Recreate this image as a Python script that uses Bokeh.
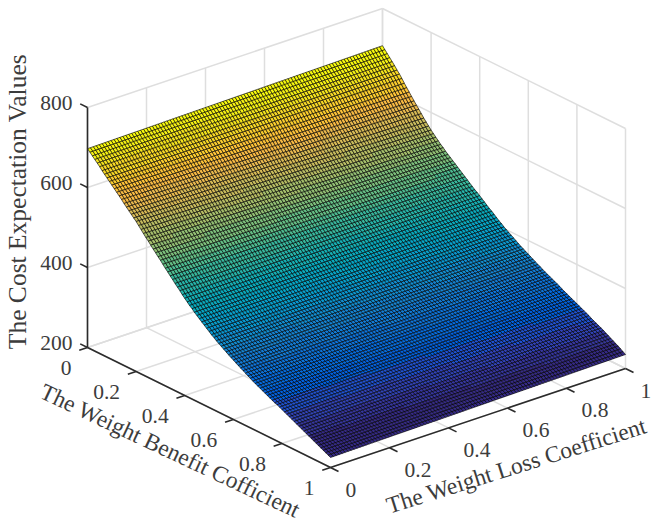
from bokeh.plotting import figure
from bokeh.models import Range1d, ColumnDataSource, LinearColorMapper
from bokeh.core.properties import value
from bokeh.embed import file_html
from bokeh.resources import INLINE

# --- values ----------------------------------------------------------------
benefit_grid = [i / 100 for i in range(101)]
loss_grid = [i / 100 for i in range(101)]
cost_at_loss_0 = [
    697, 691, 685, 679, 673, 667, 660, 654, 648, 642, 636,
    630, 624, 618, 612, 605, 599, 593, 587, 581, 575,
    568, 561, 554, 547, 541, 534, 527, 521, 514, 508,
    501, 494, 488, 481, 475, 468, 462, 456, 449, 443,
    437, 431, 426, 420, 415, 410, 405, 400, 395, 390,
    385, 381, 376, 372, 368, 364, 360, 356, 352, 349,
    345, 341, 338, 334, 331, 327, 324, 320, 317, 314,
    311, 308, 305, 302, 299, 296, 293, 291, 288, 285,
    282, 279, 276, 273, 270, 267, 264, 261, 258, 255,
    252, 249, 246, 243, 240, 237, 234, 231, 228, 225]
cost_at_loss_1 = [
    707, 700, 693, 686, 679, 672, 664, 657, 649, 640, 632,
    624, 616, 608, 600, 593, 585, 577, 570, 563, 556,
    550, 544, 538, 532, 527, 521, 516, 511, 506, 501,
    496, 491, 486, 481, 476, 471, 466, 461, 457, 452,
    447, 442, 437, 432, 428, 423, 418, 413, 409, 404,
    400, 396, 392, 388, 384, 380, 376, 373, 369, 366,
    362, 359, 355, 352, 349, 345, 342, 339, 336, 333,
    330, 327, 324, 320, 317, 314, 311, 308, 305, 302,
    299, 296, 293, 290, 287, 283, 280, 277, 274, 271,
    268, 264, 261, 257, 254, 250, 247, 243, 239, 235]
benefit_ticks = [0, 0.2, 0.4, 0.6, 0.8, 1]
loss_ticks = [0, 0.2, 0.4, 0.6, 0.8, 1]
cost_ticks = [200, 400, 600, 800]
benefit_labels = ["0", "0.2", "0.4", "0.6", "0.8", "1"]
loss_labels = ["0", "0.2", "0.4", "0.6", "0.8", "1"]
cost_labels = ["200", "400", "600", "800"]
x_title = "The Weight Loss Coefficient"
y_title = "The Weight Benefit Cofficient"
z_title = "The Cost Expectation Values"

PARULA = [
    (0.2081,0.1663,0.5292),(0.2123,0.2138,0.6270),(0.1959,0.2645,0.7279),(0.1253,0.3242,0.8303),
    (0.0117,0.3875,0.8820),(0.0165,0.4266,0.8786),(0.0498,0.4586,0.8641),(0.0723,0.4887,0.8467),
    (0.0793,0.5200,0.8312),(0.0641,0.5570,0.8240),(0.0343,0.5966,0.8199),(0.0239,0.6287,0.8038),
    (0.0228,0.6535,0.7768),(0.0384,0.6743,0.7436),(0.0843,0.6928,0.7062),(0.1453,0.7098,0.6646),
    (0.2178,0.7250,0.6193),(0.3022,0.7376,0.5712),(0.3953,0.7459,0.5244),(0.4871,0.7491,0.4840),
    (0.5709,0.7485,0.4494),(0.6473,0.7456,0.4188),(0.7184,0.7411,0.3905),(0.7858,0.7356,0.3633),
    (0.8507,0.7299,0.3360),(0.9139,0.7258,0.3063),(0.9739,0.7314,0.2666),(0.9990,0.7653,0.2164),
    (0.9880,0.8066,0.1794),(0.9697,0.8481,0.1475),(0.9589,0.8949,0.1132),(0.9661,0.9514,0.0755),
    (0.9763,0.9831,0.0538)]
palette = ["#%02x%02x%02x" % tuple(int(c * 255) for c in rgb) for rgb in PARULA]

# --- oblique view of the box, as in the reference ---------------------------
def view(b, l, z):
    return (87 + 243 * b + 295 * l,
            347 + 120 * b - 99 * l - (z - 200) * 0.4)

W, H = 651, 522
p = figure(width=W, height=H, output_backend="svg", toolbar_location=None,
           x_range=Range1d(0, W), y_range=Range1d(H, 0),
           min_border=0, x_axis_type=None, y_axis_type=None,
           background_fill_color="white", border_fill_color="white",
           outline_line_color=None)
p.grid.visible = False

# --- walls and floor grid ---------------------------------------------------
GRID = "#dedede"
gx, gy = [], []
def seg(a, c):
    x0, y0 = view(*a); x1, y1 = view(*c)
    gx.append([x0, x1]); gy.append([y0, y1])
for t in loss_ticks:
    seg((0, t, 200), (0, t, 800))
    seg((0, t, 200), (1, t, 200))
for t in benefit_ticks:
    seg((t, 1, 200), (t, 1, 800))
    seg((t, 0, 200), (t, 1, 200))
for c in cost_ticks:
    seg((0, 0, c), (0, 1, c))
    seg((0, 1, c), (1, 1, c))
p.multi_line(gx, gy, line_color=GRID, line_width=1.5)

# --- surface ----------------------------------------------------------------
def height(i, j):
    return cost_at_loss_0[i] + (cost_at_loss_1[i] - cost_at_loss_0[i]) * loss_grid[j]

xs, ys, zc = [], [], []
for i in range(len(benefit_grid) - 1):
    for j in range(len(loss_grid) - 1):
        corners = [(i, j), (i + 1, j), (i + 1, j + 1), (i, j + 1)]
        pts = [view(benefit_grid[a], loss_grid[c], height(a, c)) for a, c in corners]
        xs.append([q[0] for q in pts])
        ys.append([q[1] for q in pts])
        zc.append(sum(height(a, c) for a, c in corners) / 4)
mapper = LinearColorMapper(palette=palette, low=238, high=max(cost_at_loss_1))
p.patches("xs", "ys", source=ColumnDataSource(dict(xs=xs, ys=ys, z=zc)),
          fill_color={"field": "z", "transform": mapper},
          line_color="#000000", line_width=0.62)

# --- axes -------------------------------------------------------------------
AX = "#2b2b2b"
ax_x, ax_y = [], []
def aseg(a, c):
    x0, y0 = view(*a); x1, y1 = view(*c)
    ax_x.append([x0, x1]); ax_y.append([y0, y1])
aseg((0, 0, 200), (0, 0, 800))
aseg((0, 0, 200), (1, 0, 200))
aseg((1, 0, 200), (1, 1, 200))
for c in cost_ticks:
    aseg((0, 0, c), (-0.03, 0, c))
for t in benefit_ticks:
    aseg((t, 0, 200), (t, -0.028, 200))
for t in loss_ticks:
    aseg((1, t, 200), (1.033, t, 200))
p.multi_line(ax_x, ax_y, line_color=AX, line_width=1.6)

TXT = "#3c3c3c"
FONT = value("Liberation Serif")
def labels(x, y, text, align, size="21.5px", angle=0.0, baseline="middle"):
    p.text(x=x, y=y, text=text, text_font=FONT, text_font_size=size, text_color=TXT,
           text_align=align, text_baseline=baseline, angle=angle)

cz = [view(0, 0, c) for c in cost_ticks]
labels([q[0] - 15 for q in cz], [q[1] - 5 for q in cz], cost_labels, "right")
cb = [view(t, 0, 200) for t in benefit_ticks]
labels([q[0] - 16 for q in cb], [q[1] + 20 for q in cb], benefit_labels, "right")
cl = [view(1, t, 200) for t in loss_ticks]
labels([q[0] + 15 for q in cl], [q[1] + 22 for q in cl], loss_labels, "left")

labels([170], [450], [y_title], "center", "23.4px", -0.44)
labels([516], [465], [x_title], "center", "23.5px", 0.305)
labels([17], [201], [z_title], "center", "25.5px", 1.5708)

open("out.html", "w").write(file_html(p, INLINE))
